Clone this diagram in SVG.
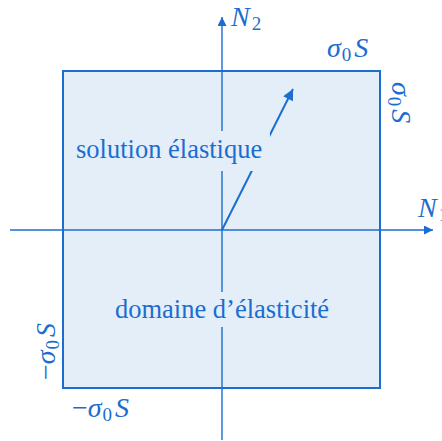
<svg xmlns="http://www.w3.org/2000/svg" width="442" height="441" viewBox="0 0 442 441">
<defs>
<style>
.sq{fill:#e4eef9;stroke:#1b6dd0;stroke-width:2}
.bg{fill:#e4eef9;stroke:none}
.ax{stroke:#1b6dd0;stroke-width:1.4;fill:none}
.ar{stroke:#1b6dd0;stroke-width:2;fill:none}
.t{font-family:'Liberation Serif','Times New Roman',serif;font-size:26.5px;fill:#1b6dd0}
.m{font-family:'Liberation Serif','Times New Roman',serif;font-size:28px;fill:#1b6dd0;font-style:italic}
.sub{font-style:normal;font-size:19px}
.up{font-style:normal}
</style>
<marker id="ah" viewBox="0 0 10 10" refX="10" refY="5" markerWidth="11" markerHeight="9" markerUnits="userSpaceOnUse" orient="auto"><path d="M0,0 L10,5 L0,10 z" fill="#1b6dd0"/></marker>
<marker id="ah2" viewBox="0 0 10 10" refX="10" refY="5" markerWidth="13" markerHeight="11" markerUnits="userSpaceOnUse" orient="auto"><path d="M0,0 L10,5 L0,10 z" fill="#1b6dd0"/></marker>
</defs>
<g id="domain">
<rect class="sq" x="63" y="71" width="317" height="317"/>
</g>
<g id="connectors">
<line class="ax" x1="10" y1="230" x2="433" y2="230" marker-end="url(#ah)"/>
<line class="ax" x1="222" y1="440" x2="222" y2="17" marker-end="url(#ah)"/>
<line class="ar" x1="222" y1="230" x2="293" y2="89" marker-end="url(#ah2)"/>
</g>
<g id="label-solution">
<rect class="bg" x="72" y="131" width="198" height="40"/>
<text class="t" x="76" y="158">solution élastique</text>
</g>
<g id="label-domaine">
<rect class="bg" x="111" y="292" width="222" height="35"/>
<text class="t" x="115" y="318">domaine d’élasticité</text>
</g>
<g id="axis-N2">
<text class="m" x="231" y="26">N<tspan class="sub" dx="2" dy="4">2</tspan></text>
</g>
<g id="axis-N1">
<text class="m" x="418" y="217">N<tspan class="sub" dx="2" dy="4">1</tspan></text>
</g>
<g id="label-top">
<text class="m" x="327" y="57">σ<tspan class="sub" dx="1" dy="4">0</tspan><tspan dx="3" dy="-4">S</tspan></text>
</g>
<g id="label-right">
<text class="m" transform="translate(392,82) rotate(90)">σ<tspan class="sub" dx="1" dy="4">0</tspan><tspan dx="3" dy="-4">S</tspan></text>
</g>
<g id="label-left">
<text class="m" transform="translate(55,380) rotate(-90)"><tspan class="up">−</tspan>σ<tspan class="sub" dx="1" dy="4">0</tspan><tspan dx="3" dy="-4">S</tspan></text>
</g>
<g id="label-bottom">
<text class="m" x="72" y="417"><tspan class="up">−</tspan>σ<tspan class="sub" dx="1" dy="4">0</tspan><tspan dx="3" dy="-4">S</tspan></text>
</g>
</svg>
